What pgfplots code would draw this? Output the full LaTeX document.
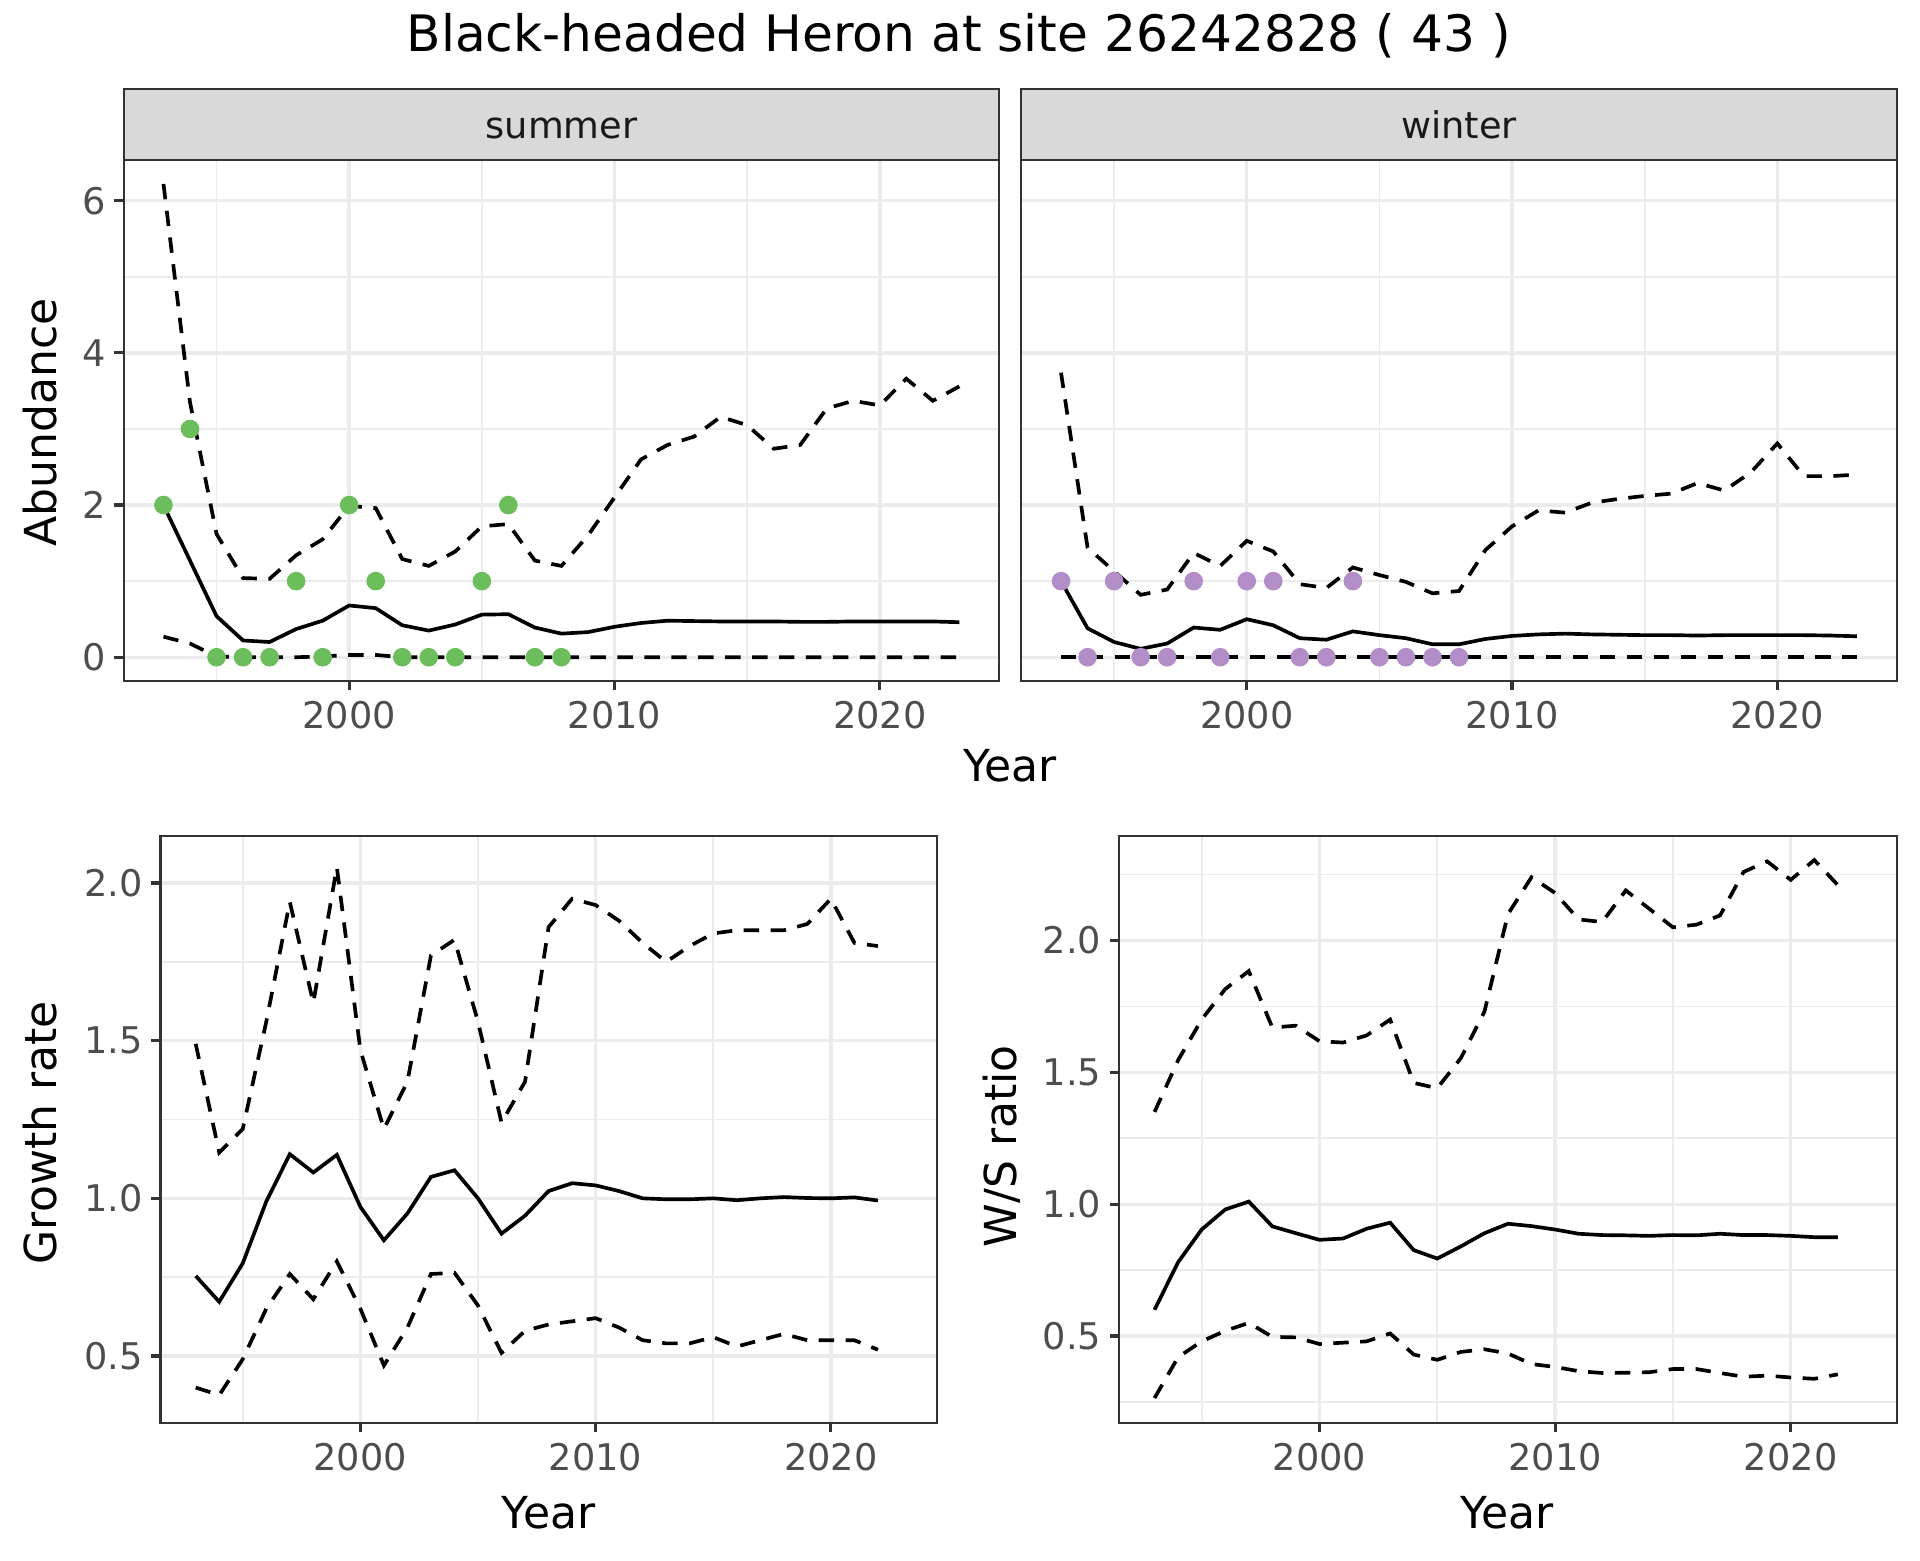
\documentclass[border=0pt]{standalone}
\usepackage{pgfplots}
\pgfplotsset{compat=1.18}
\usepackage{pgfplotstable}
\usepackage{fontspec}
\setmainfont{DejaVu Sans}

\definecolor{c33}{HTML}{333333}
\definecolor{c4d}{HTML}{4D4D4D}
\definecolor{gridc}{HTML}{EBEBEB}
\definecolor{stripc}{HTML}{D9D9D9}
\definecolor{sumpt}{HTML}{6CBD5B}
\definecolor{winpt}{HTML}{B28DC7}

% year  lower  mean  upper
\pgfplotstableread{
year lo mid hi
1993 0.27 2.00 6.22
1994 0.18 1.27 3.35
1995 0.01 0.54 1.62
1996 0.00 0.22 1.04
1997 0.00 0.20 1.03
1998 0.00 0.37 1.34
1999 0.01 0.48 1.55
2000 0.03 0.68 1.99
2001 0.03 0.645 1.96
2002 0.00 0.42 1.29
2003 0.00 0.35 1.20
2004 0.00 0.43 1.39
2005 0.00 0.56 1.72
2006 0.00 0.565 1.75
2007 0.00 0.39 1.27
2008 0.00 0.31 1.20
2009 0.00 0.33 1.60
2010 0.00 0.40 2.10
2011 0.00 0.45 2.60
2012 0.00 0.48 2.79
2013 0.00 0.475 2.90
2014 0.00 0.47 3.16
2015 0.00 0.47 3.05
2016 0.00 0.47 2.74
2017 0.00 0.465 2.79
2018 0.00 0.465 3.27
2019 0.00 0.47 3.37
2020 0.00 0.47 3.31
2021 0.00 0.47 3.66
2022 0.00 0.47 3.37
2023 0.00 0.46 3.56
}\summer

\pgfplotstableread{
year lo mid hi
1993 0 1.00 3.74
1994 0 0.38 1.44
1995 0 0.20 1.13
1996 0 0.11 0.82
1997 0 0.18 0.89
1998 0 0.39 1.37
1999 0 0.36 1.20
2000 0 0.50 1.53
2001 0 0.42 1.39
2002 0 0.25 0.96
2003 0 0.23 0.91
2004 0 0.34 1.18
2005 0 0.29 1.08
2006 0 0.25 0.99
2007 0 0.17 0.84
2008 0 0.17 0.87
2009 0 0.24 1.41
2010 0 0.28 1.72
2011 0 0.30 1.93
2012 0 0.31 1.90
2013 0 0.30 2.03
2014 0 0.295 2.08
2015 0 0.29 2.12
2016 0 0.29 2.15
2017 0 0.285 2.29
2018 0 0.29 2.19
2019 0 0.29 2.43
2020 0 0.29 2.81
2021 0 0.29 2.38
2022 0 0.285 2.38
2023 0 0.275 2.40
}\winter

\pgfplotstableread{
year n
1993 2
1994 3
1995 0
1996 0
1997 0
1998 1
1999 0
2000 2
2001 1
2002 0
2003 0
2004 0
2005 1
2006 2
2007 0
2008 0
}\summerobs

\pgfplotstableread{
year n
1993 1
1994 0
1995 1
1996 0
1997 0
1998 1
1999 0
2000 1
2001 1
2002 0
2003 0
2004 1
2005 0
2006 0
2007 0
2008 0
}\winterobs

\pgfplotstableread{
year lo mid hi
1993 0.40 0.754 1.49
1994 0.376 0.672 1.145
1995 0.49 0.794 1.22
1996 0.65 0.99 1.56
1997 0.76 1.14 1.94
1998 0.68 1.082 1.62
1999 0.80 1.138 2.05
2000 0.65 0.973 1.47
2001 0.47 0.867 1.22
2002 0.59 0.952 1.37
2003 0.76 1.068 1.77
2004 0.764 1.089 1.82
2005 0.66 1.00 1.56
2006 0.51 0.888 1.24
2007 0.58 0.945 1.37
2008 0.60 1.023 1.86
2009 0.61 1.048 1.95
2010 0.62 1.041 1.93
2011 0.59 1.023 1.88
2012 0.55 1.00 1.81
2013 0.54 0.997 1.75
2014 0.54 0.997 1.80
2015 0.56 1.00 1.84
2016 0.53 0.994 1.85
2017 0.55 1.00 1.85
2018 0.57 1.004 1.85
2019 0.55 1.001 1.87
2020 0.55 1.00 1.95
2021 0.55 1.003 1.81
2022 0.52 0.993 1.80
}\growth

\pgfplotstableread{
year lo mid hi
1993 0.265 0.60 1.35
1994 0.42 0.78 1.546
1995 0.48 0.904 1.70
1996 0.52 0.98 1.816
1997 0.55 1.01 1.884
1998 0.497 0.916 1.67
1999 0.495 0.89 1.677
2000 0.47 0.865 1.618
2001 0.475 0.87 1.613
2002 0.48 0.907 1.64
2003 0.51 0.93 1.70
2004 0.43 0.826 1.46
2005 0.41 0.794 1.44
2006 0.44 0.84 1.554
2007 0.45 0.89 1.73
2008 0.434 0.926 2.10
2009 0.394 0.917 2.24
2010 0.383 0.904 2.18
2011 0.367 0.888 2.08
2012 0.36 0.883 2.07
2013 0.361 0.882 2.19
2014 0.363 0.880 2.12
2015 0.375 0.883 2.05
2016 0.375 0.882 2.06
2017 0.36 0.888 2.095
2018 0.346 0.883 2.26
2019 0.35 0.883 2.30
2020 0.343 0.880 2.23
2021 0.338 0.875 2.305
2022 0.355 0.875 2.21
}\wsratio

\pgfplotsset{
  gg/.style={
    scale only axis, anchor=south west,
    axis line style={c33, line width=0.9pt},
    tick align=outside, major tick length=3.8pt, minor tick length=0pt,
    tick style={c33, line width=1.3pt},
    xtick pos=left, ytick pos=left,
    grid=both,
    major grid style={gridc, line width=1.4pt},
    minor grid style={gridc, line width=0.7pt},
    tick label style={font=\fontsize{15}{18}\selectfont, text=c4d},
    xticklabel style={yshift=-1pt},
    /pgf/number format/assume math mode=true,
    xmin=1991.5, xmax=2024.5,
    xtick={2000,2010,2020}, xticklabels={2000,2010,2020},
    minor xtick={1995,2005,2015},
  },
  mid/.style={black, line width=1.5pt, no markers},
  ci/.style={black, line width=1.5pt, no markers, dash pattern=on 6.3pt off 4.7pt},
  obs/.style={only marks, mark=*, mark size=3.6pt},
}

\begin{document}
\begin{tikzpicture}[x=1pt,y=1pt]
\path[use as bounding box] (0,0) rectangle (784,637);

% title
\node[anchor=base, font=\fontsize{20.5}{24}\selectfont] at (391.5,616) {Black-headed Heron at site 26242828 ( 43 )};

% facet strips
\draw[fill=stripc, draw=c33, line width=0.9pt] (50.5,571.5) rectangle (408,600.5);
\draw[fill=stripc, draw=c33, line width=0.9pt] (417,571.5) rectangle (774.5,600.5);
\node[anchor=base, text=black!90, font=\fontsize{15}{18}\selectfont] at (229.25,580.5) {summer};
\node[anchor=base, text=black!90, font=\fontsize{15}{18}\selectfont] at (595.75,580.5) {winter};

% summer
\begin{axis}[gg, at={(50.5pt,359pt)}, width=357.5pt, height=212.5pt,
  ymin=-0.31, ymax=6.53, ytick={0,2,4,6}, yticklabels={0,2,4,6}, minor ytick={1,3,5}]
\addplot[ci] table[x=year, y=lo] {\summer};
\addplot[ci] table[x=year, y=hi] {\summer};
\addplot[mid] table[x=year, y=mid] {\summer};
\addplot[obs, sumpt] table[x=year, y=n] {\summerobs};
\end{axis}

% winter
\begin{axis}[gg, at={(417pt,359pt)}, width=357.5pt, height=212.5pt,
  ymin=-0.31, ymax=6.53, ytick={0,2,4,6}, yticklabels={}, minor ytick={1,3,5},
  ytick style={draw=none}]
\addplot[ci] table[x=year, y=lo] {\winter};
\addplot[ci] table[x=year, y=hi] {\winter};
\addplot[mid] table[x=year, y=mid] {\winter};
\addplot[obs, winpt] table[x=year, y=n] {\winterobs};
\end{axis}

\node[anchor=base, font=\fontsize{18}{21}\selectfont] at (412.5,318) {Year};
\node[rotate=90, font=\fontsize{18}{21}\selectfont] at (16.5,464.5) {Abundance};

% growth rate
\begin{axis}[gg, at={(65.5pt,56pt)}, width=317pt, height=239.5pt,
  ymin=0.288, ymax=2.148, ytick={0.5,1,1.5,2}, yticklabels={0.5,1.0,1.5,2.0},
  minor ytick={0.75,1.25,1.75}]
\addplot[ci] table[x=year, y=lo] {\growth};
\addplot[ci] table[x=year, y=hi] {\growth};
\addplot[mid] table[x=year, y=mid] {\growth};
\end{axis}
\node[anchor=base, font=\fontsize{18}{21}\selectfont] at (224,13) {Year};
\node[rotate=90, font=\fontsize{18}{21}\selectfont] at (16.5,174.5) {Growth rate};

% W/S ratio
\begin{axis}[gg, at={(457pt,56pt)}, width=317.5pt, height=239.5pt,
  ymin=0.171, ymax=2.395, ytick={0.5,1,1.5,2}, yticklabels={0.5,1.0,1.5,2.0},
  minor ytick={0.25,0.75,1.25,1.75,2.25}]
\addplot[ci] table[x=year, y=lo] {\wsratio};
\addplot[ci] table[x=year, y=hi] {\wsratio};
\addplot[mid] table[x=year, y=mid] {\wsratio};
\end{axis}
\node[anchor=base, font=\fontsize{18}{21}\selectfont] at (615.5,13) {Year};
\node[rotate=90, font=\fontsize{18}{21}\selectfont] at (409,169) {W/S ratio};
\end{tikzpicture}
\end{document}
